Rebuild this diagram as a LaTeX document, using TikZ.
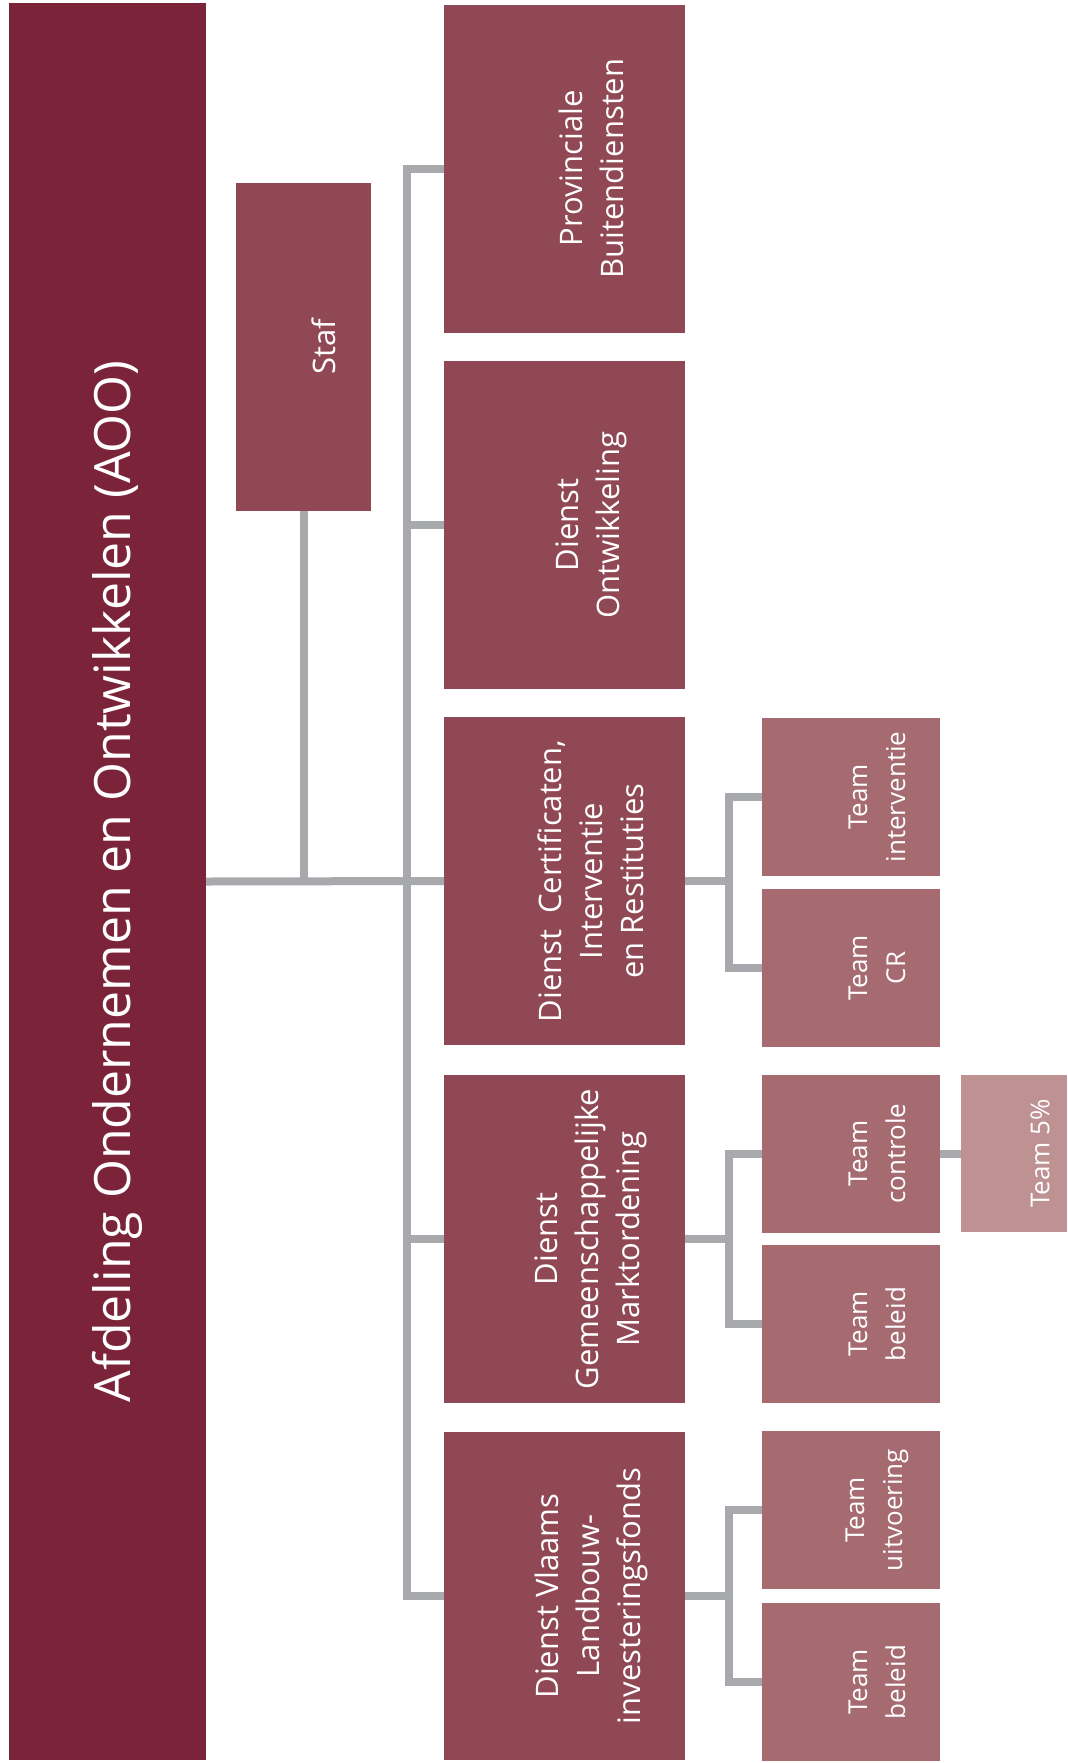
\documentclass[tikz,border=0pt]{standalone}
\usepackage{fontspec}
\setmainfont{Open Sans}
\definecolor{cMain}{HTML}{7B2339}
\definecolor{cDienst}{HTML}{904854}
\definecolor{cTeam}{HTML}{A66B71}
\definecolor{cSub}{HTML}{BE9293}
\definecolor{cLine}{HTML}{A7A9AC}
\begin{document}
\begin{tikzpicture}[x=0.5pt,y=-0.5pt,
  box/.style={rectangle, inner sep=0pt, outer sep=0pt, draw=none},
  mainbox/.style={box, fill=cMain, minimum width=98.5pt, minimum height=878.5pt},
  stafbox/.style={box, fill=cDienst, minimum width=67.5pt, minimum height=164pt},
  dbox/.style={box, fill=cDienst, minimum width=120.5pt, minimum height=164pt},
  tbox/.style={box, fill=cTeam, minimum width=89pt, minimum height=79pt},
  sbox/.style={box, fill=cSub, minimum width=53pt, minimum height=78.5pt},
  txt/.style={text=white, rotate=90, align=center, inner sep=0pt},
  maintxt/.style={txt, font=\fontsize{25}{30}\selectfont},
  dtxt/.style={txt, font=\fontsize{15.5}{20.5}\selectfont},
  ttxt/.style={txt, font=\fontsize{13}{19}\selectfont},
  conn/.style={draw=cLine, line width=4pt}
]
\useasboundingbox (0,0) rectangle (1067,1763);
\fill[white] (0,0) rectangle (1067,1763);

% boxes
\node[mainbox] (main) at (107.5,881.5) {};
\node[stafbox] (staf) at (303.5,347) {};
\node[dbox] (P) at (564.5,168.5) {};
\node[dbox] (O) at (564.5,525) {};
\node[dbox] (C) at (564.5,881) {};
\node[dbox] (G) at (564.5,1239) {};
\node[dbox] (V) at (564.5,1596) {};
\node[tbox] (T1) at (851,797) {};
\node[tbox] (T2) at (851,968) {};
\node[tbox] (T3) at (851,1153.5) {};
\node[tbox] (T4) at (851,1324) {};
\node[tbox] (T5) at (851,1510) {};
\node[tbox] (T6) at (851,1682) {};
\node[sbox] (S) at (1014,1153.5) {};

% texts
\node[maintxt] (mainT) at (117.5,881.5) {Afdeling Ondernemen en Ontwikkelen (AOO)};
\node[dtxt] (stafT) at (324,347) {Staf};
\node[dtxt] (PT) at (591,168.5) {Provinciale\\Buitendiensten};
\node[dtxt] (OT) at (591,525) {Dienst\\Ontwikkeling};
\node[dtxt] (CT) at (591,881) {Dienst\hspace{0.25em} Certificaten,\\Interventie\\en Restituties};
\node[dtxt] (GT) at (591,1239) {Dienst\\Gemeenschappelijke\\Marktordening};
\node[dtxt] (VT) at (591,1596) {Dienst Vlaams\\Landbouw-\\investeringsfonds};
\node[ttxt] (T1T) at (877,797) {Team\\interventie};
\node[ttxt] (T2T) at (877,968) {Team\\CR};
\node[ttxt] (T3T) at (877,1153.5) {Team\\controle};
\node[ttxt] (T4T) at (877,1324) {Team\\beleid};
\node[ttxt] (T5T) at (877,1510) {Team\\uitvoering};
\node[ttxt] (T6T) at (877,1682) {Team\\beleid};
\node[ttxt] (ST) at (1040,1153.5) {Team 5\%};

% connectors
\coordinate (busTop) at (407,168.5);
\coordinate (busBot) at (407,1596);
\draw[conn] (main.east) -- (C.west);
\draw[conn] (staf.south) -- (staf.south |- main.east);
\draw[conn] (P.west) -- (busTop) -- (busBot) -- (V.west);
\draw[conn] (O.west) -- (O.west -| busTop);
\draw[conn] (G.west) -- (G.west -| busTop);

\coordinate (cb) at (729,881);
\draw[conn] (C.east) -- (cb);
\draw[conn] (T1.west) -- (T1.west -| cb) -- (T2.west -| cb) -- (T2.west);
\coordinate (gb) at (729,1239);
\draw[conn] (G.east) -- (gb);
\draw[conn] (T3.west) -- (T3.west -| gb) -- (T4.west -| gb) -- (T4.west);
\coordinate (vb) at (729,1596);
\draw[conn] (V.east) -- (vb);
\draw[conn] (T5.west) -- (T5.west -| vb) -- (T6.west -| vb) -- (T6.west);
\draw[conn] (T3.east) -- (S.west);
\end{tikzpicture}
\end{document}
